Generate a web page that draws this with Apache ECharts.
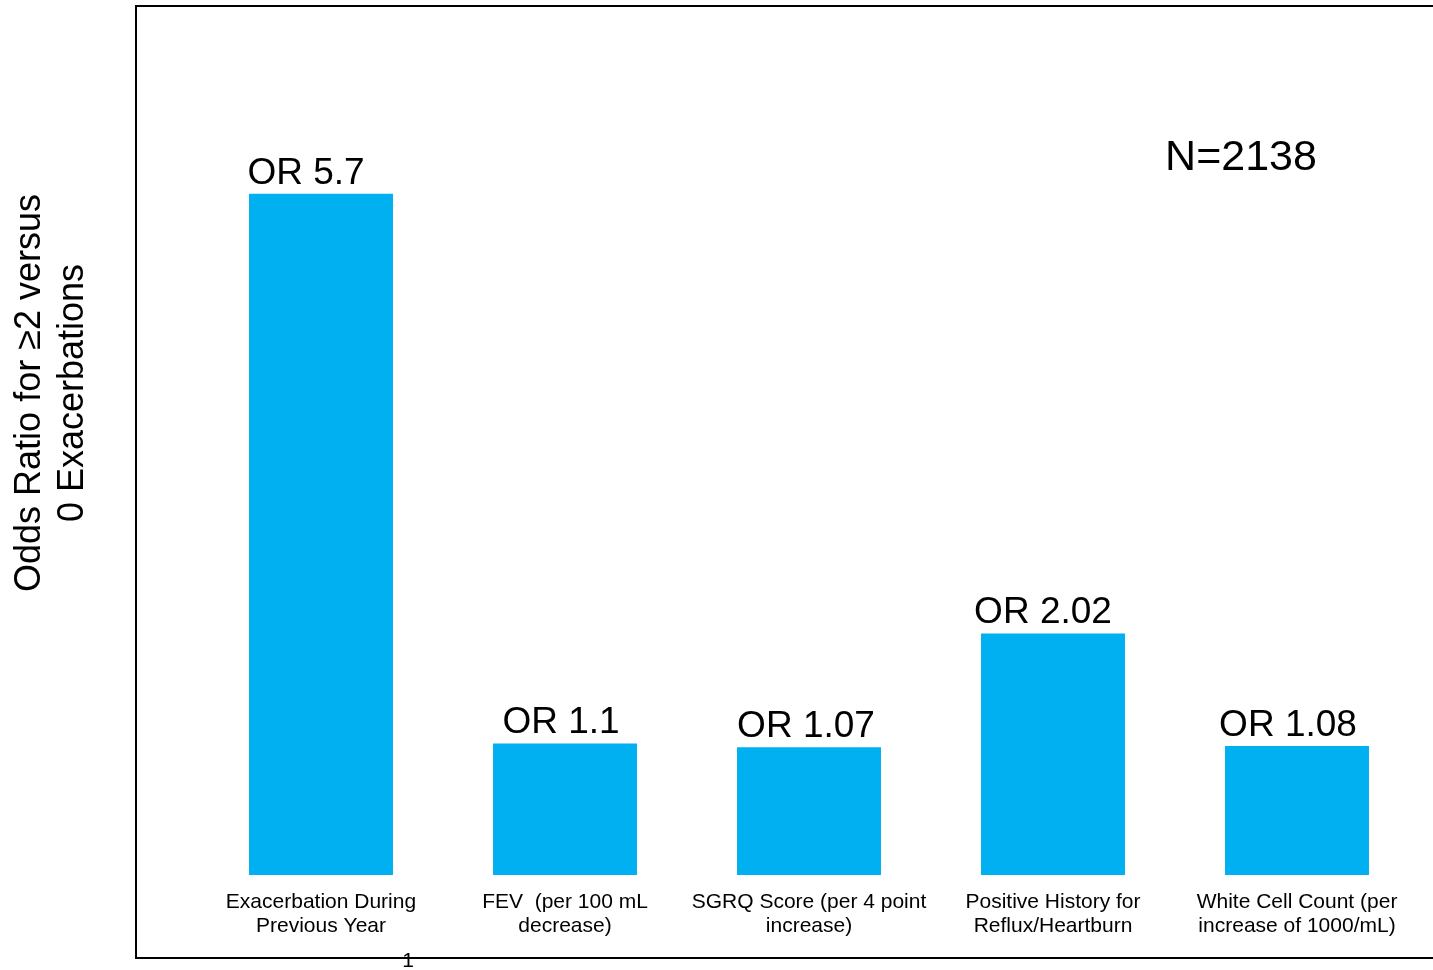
<!DOCTYPE html>
<html>
<head>
<meta charset="utf-8">
<script src="https://cdn.jsdelivr.net/npm/echarts@6/dist/echarts.min.js"></script>
<style>
  html, body { margin: 0; padding: 0; background: #fff; }
  #chart { width: 1433px; height: 970px; }
</style>
</head>
<body>
<div id="chart"></div>
<script>
// Predictors of frequent exacerbation (odds ratios)
const categories = [
  'Exacerbation During\nPrevious Year',
  'FEV  (per 100 mL\ndecrease)',
  'SGRQ Score (per 4 point\nincrease)',
  'Positive History for\nReflux/Heartburn',
  'White Cell Count (per\nincrease of 1000/mL)'
];
const oddsRatios = [5.7, 1.1, 1.07, 2.02, 1.08];
const barLabels = ['OR 5.7', 'OR 1.1', 'OR 1.07', 'OR 2.02', 'OR 1.08'];
const yTitle = 'Odds Ratio for \u22652 versus\n0 Exacerbations';
const sampleNote = 'N=2138';

// value labels sit slightly left of their bar centres
const labelNudgeX = [-15, -4, -3, -10, -9];

const FONT = '"Liberation Sans", Arial, sans-serif';
const chart = echarts.init(document.getElementById('chart'), null, { renderer: 'canvas' });

chart.setOption({
  animation: false,
  backgroundColor: '#ffffff',
  grid: { left: 199, right: 14, top: 38.5, bottom: 95, containLabel: false },
  xAxis: {
    type: 'category',
    data: categories,
    axisLine: { show: false },
    axisTick: { show: false },
    axisLabel: {
      interval: 0,
      margin: 15,
      color: '#000',
      fontFamily: FONT,
      fontSize: 21,
      lineHeight: 24,
      align: 'center'
    }
  },
  yAxis: {
    type: 'value',
    min: 0,
    max: 7,
    show: false,
    splitLine: { show: false }
  },
  series: [{
    type: 'bar',
    data: oddsRatios.map((v, i) => ({
      value: v,
      label: { offset: [labelNudgeX[i], 0] }
    })),
    barWidth: '59%',
    itemStyle: { color: '#00B0F0' },
    label: {
      show: true,
      position: 'top',
      distance: 2,
      color: '#000',
      fontFamily: FONT,
      fontSize: 37,
      formatter: p => barLabels[p.dataIndex]
    }
  }],
  graphic: [
    {
      type: 'rect',
      shape: { x: 136, y: 6, width: 1320, height: 952 },
      style: { fill: 'none', stroke: '#000', lineWidth: 2 },
      silent: true
    },
    {
      type: 'text',
      x: 52,
      y: 393,
      rotation: Math.PI / 2,
      style: {
        text: yTitle,
        fill: '#000',
        font: '36px ' + FONT,
        lineHeight: 43,
        textAlign: 'center',
        textVerticalAlign: 'middle'
      }
    },
    {
      type: 'text',
      x: 1241,
      y: 158,
      style: {
        text: sampleNote,
        fill: '#000',
        font: '43px ' + FONT,
        textAlign: 'center',
        textVerticalAlign: 'middle'
      }
    },
    {
      type: 'text',
      x: 408,
      y: 951,
      style: {
        text: '1',
        fill: '#000',
        font: '21px ' + FONT,
        textAlign: 'center',
        textVerticalAlign: 'top'
      }
    }
  ]
});
</script>
</body>
</html>
